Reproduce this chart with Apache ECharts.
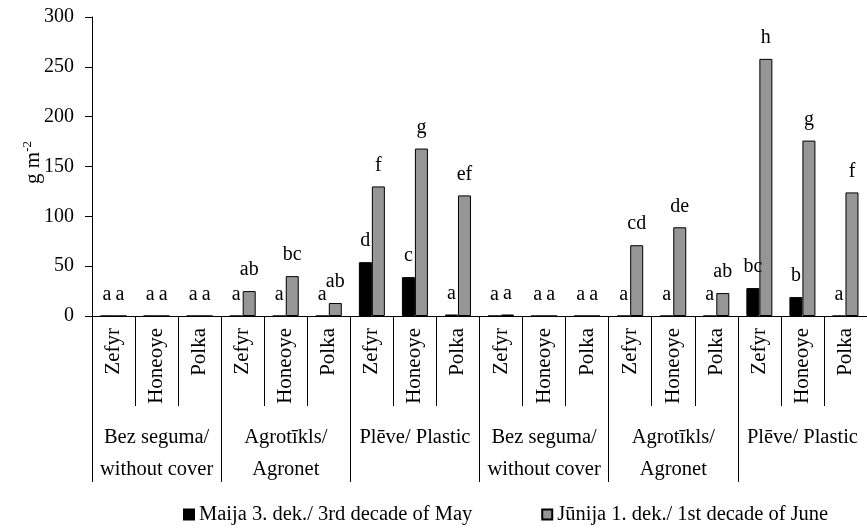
<!DOCTYPE html>
<html><head><meta charset="utf-8">
<script src="https://cdn.jsdelivr.net/npm/echarts@6/dist/echarts.min.js"></script>
<style>html,body{margin:0;padding:0;background:#fff}#c{width:867px;height:529px}</style>
</head><body><div id="c"></div>
<script>
const cultivars = ['Zefyr','Honeoye','Polka','Zefyr','Honeoye','Polka','Zefyr','Honeoye','Polka',
                   'Zefyr','Honeoye','Polka','Zefyr','Honeoye','Polka','Zefyr','Honeoye','Polka'];
const groups = ['Bez seguma/\nwithout cover','Agrotīkls/\nAgronet','Plēve/ Plastic',
                'Bez seguma/\nwithout cover','Agrotīkls/\nAgronet','Plēve/ Plastic'];
const seriesNames = ['Maija 3. dek./ 3rd decade of May','Jūnija 1. dek./ 1st decade of June'];
const mayValues  = [0,0,0, 0,0,0, 54,39,1.5, 0,0,0, 0,0,0, 28,19,0];
const juneValues = [0,0,0, 25,40,13, 130,168,121, 1.5,0,0, 71,89,23, 258,176,124];
const mayLetters  = ['a','a','a','a','a','a','d','c','a','a','a','a','a','a','a','bc','b','a'];
const juneLetters = ['a','a','a','ab','bc','ab','f','g','ef','a','a','a','cd','de','ab','h','g','f'];
const yMin = 0, yMax = 300, yStep = 50;

const FF = 'Liberation Serif';
const chart = echarts.init(document.getElementById('c'), null, {renderer:'canvas'});
const lbl = (letters) => ({
  show: true, position: 'top', distance: 11, color: '#000', fontFamily: FF, fontSize: 20,
  formatter: p => letters[p.dataIndex]
});
chart.setOption({
  animation: false,
  backgroundColor: '#fff',
  grid: {left: 92, top: 17, right: -7, bottom: 213, containLabel: false},
  legend: {
    left: 178, top: 499, itemWidth: 10, itemHeight: 10, itemGap: 69, icon: 'rect',
    textStyle: {fontFamily: FF, fontSize: 20.5, color: '#000'},
    data: seriesNames
  },
  xAxis: [{
    type: 'category', data: cultivars, position: 'bottom',
    axisLine: {lineStyle: {color: '#000', width: 1}},
    axisTick: {show: true, interval: 0, length: 90, lineStyle: {color: '#000'}},
    axisLabel: {interval: 0, rotate: 90, margin: 12, fontFamily: FF, fontSize: 21, color: '#000'}
  }, {
    type: 'category', data: groups, position: 'bottom',
    axisLine: {show: false},
    axisTick: {show: true, interval: 0, length: 166, lineStyle: {color: '#000'}},
    axisLabel: {interval: 0, margin: 106, fontFamily: FF, fontSize: 20.5, lineHeight: 32, color: '#000'}
  }],
  yAxis: {
    type: 'value', min: yMin, max: yMax, interval: yStep,
    name: '{b|g m}{s|-2}', nameLocation: 'middle', nameRotate: 90, nameGap: 47,
    nameMoveOverlap: false,
    nameTextStyle: {padding: [0, 0, 0, 8], rich: {
      b: {fontFamily: FF, fontSize: 21, color: '#000', lineHeight: 24},
      s: {fontFamily: FF, fontSize: 13, color: '#000', verticalAlign: 'top', lineHeight: 24}
    }},
    axisLine: {show: true, lineStyle: {color: '#000'}},
    axisTick: {show: true, length: 7, lineStyle: {color: '#000'}},
    splitLine: {show: false},
    axisLabel: {margin: 18, fontFamily: FF, fontSize: 20, color: '#000'}
  },
  series: [{
    name: seriesNames[0], type: 'bar', xAxisIndex: 0, data: mayValues,
    barWidth: 13, barGap: '0%',
    itemStyle: {color: '#000', borderColor: '#000', borderWidth: 1},
    label: lbl(mayLetters)
  }, {
    name: seriesNames[1], type: 'bar', xAxisIndex: 0, data: juneValues,
    barWidth: 13, barGap: '0%',
    itemStyle: {color: '#969696', borderColor: '#000', borderWidth: 1},
    label: lbl(juneLetters)
  }]
});
</script></body></html>
